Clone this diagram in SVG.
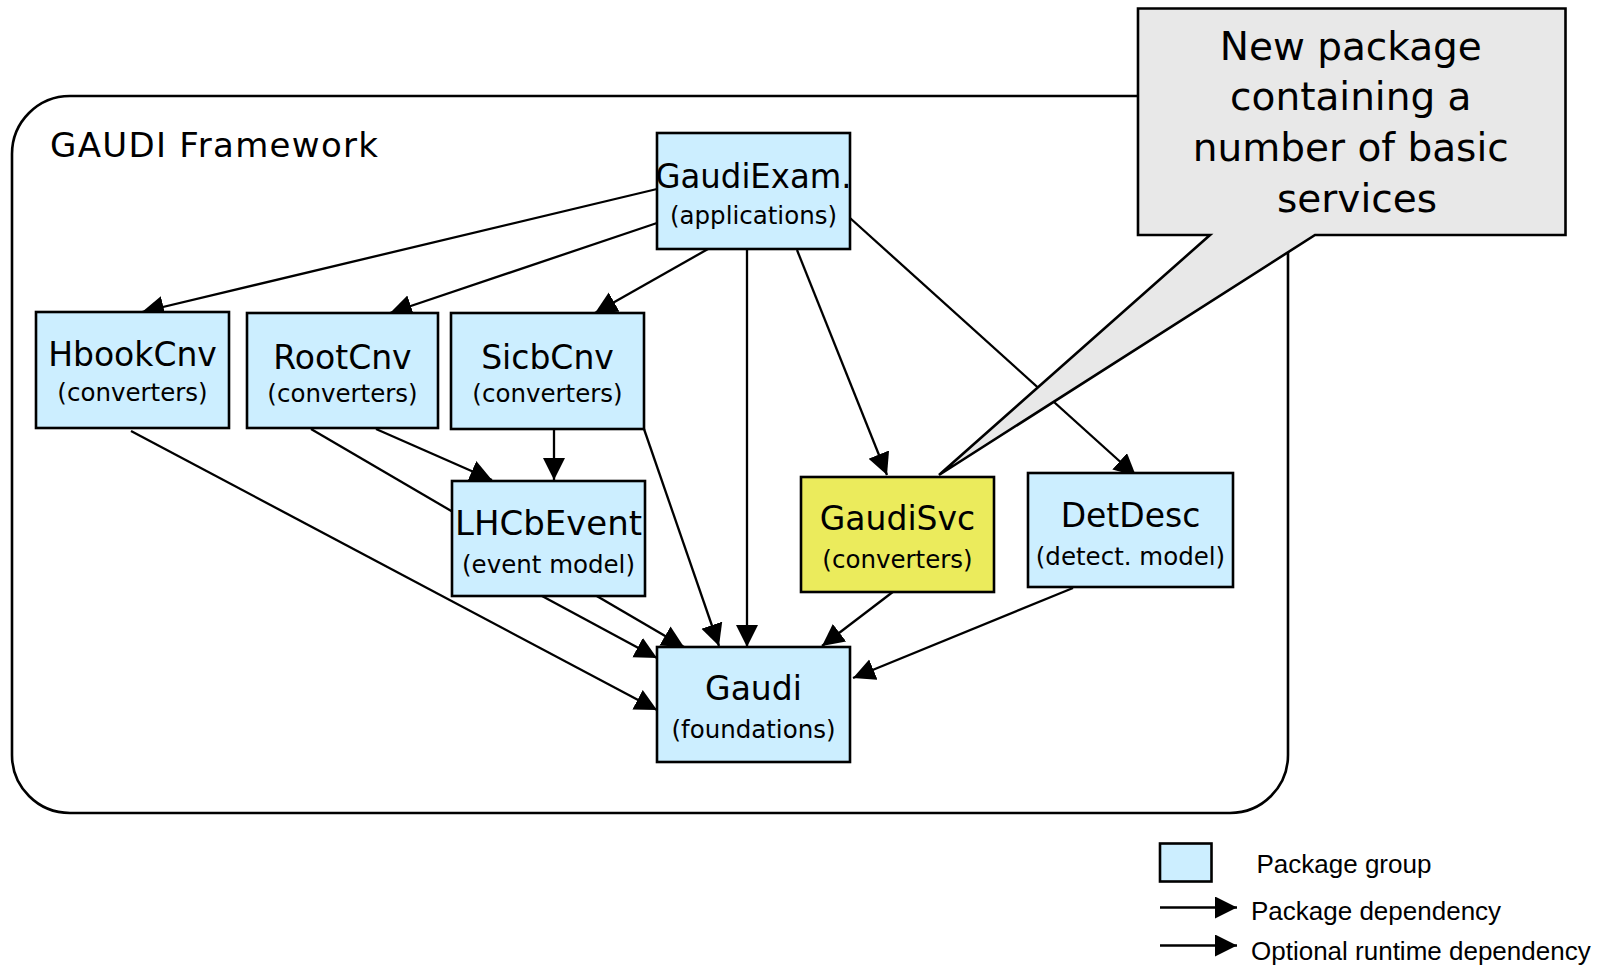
<svg xmlns="http://www.w3.org/2000/svg" width="1609" height="966" viewBox="0 0 1609 966">
<style>
.box{fill:#cceeff;stroke:#000;stroke-width:2.6}
.svc{fill:#ebeb5c;stroke:#000;stroke-width:2.6}
.t{font-family:"DejaVu Sans",sans-serif;font-size:33px;text-anchor:middle;fill:#000}
.s{font-family:"DejaVu Sans",sans-serif;font-size:24.5px;text-anchor:middle;fill:#000}
.e{fill:none;stroke:#000;stroke-width:2.3;marker-end:url(#ah)}
.lg{font-family:"Liberation Sans",Arial,sans-serif;font-size:26px;fill:#000}
</style>
<defs>
<marker id="ah" markerUnits="userSpaceOnUse" markerWidth="23" markerHeight="23" refX="22" refY="11" orient="auto">
<path d="M0,0 L22,11 L0,22 Z" fill="#000"/>
</marker>
</defs>
<rect width="1609" height="966" fill="#fff"/>
<g id="framework">
<rect x="12" y="96" width="1276" height="717" rx="58" ry="58" fill="none" stroke="#000" stroke-width="2.6"/>
<text x="50" y="157" font-family="DejaVu Sans,sans-serif" font-size="34" textLength="328" lengthAdjust="spacing">GAUDI Framework</text>
</g>
<g id="connectors">
<line class="e" x1="657" y1="189" x2="142" y2="312"/>
<line class="e" x1="657" y1="223" x2="390" y2="313"/>
<line class="e" x1="708" y1="249" x2="595" y2="313"/>
<line class="e" x1="747" y1="249" x2="747" y2="647"/>
<line class="e" x1="797" y1="250" x2="887" y2="475"/>
<line class="e" x1="850" y1="218" x2="1136" y2="476"/>
<line class="e" x1="131" y1="431" x2="657" y2="710"/>
<line class="e" x1="376" y1="429" x2="492" y2="480"/>
<line class="e" x1="311" y1="429" x2="684" y2="647"/>
<line class="e" x1="554" y1="429" x2="554" y2="480"/>
<line class="e" x1="644" y1="429" x2="719" y2="646"/>
<line class="e" x1="542" y1="596" x2="657" y2="658"/>
<line class="e" x1="898" y1="588" x2="822" y2="646"/>
<line class="e" x1="1073" y1="588" x2="853" y2="678"/>
</g>
<g id="GaudiExam">
<rect class="box" x="657" y="133" width="193" height="116"/>
<text class="t" x="753.5" y="188" textLength="196" lengthAdjust="spacingAndGlyphs">GaudiExam.</text>
<text class="s" x="753.5" y="223.5">(applications)</text>
</g>
<g id="HbookCnv">
<rect class="box" x="36" y="312" width="193" height="116"/>
<text class="t" x="132.5" y="366">HbookCnv</text>
<text class="s" x="132.5" y="400.5">(converters)</text>
</g>
<g id="RootCnv">
<rect class="box" x="247" y="313" width="191" height="115"/>
<text class="t" x="342.5" y="369">RootCnv</text>
<text class="s" x="342.5" y="401.5">(converters)</text>
</g>
<g id="SicbCnv">
<rect class="box" x="451" y="313" width="193" height="116"/>
<text class="t" x="547.5" y="369">SicbCnv</text>
<text class="s" x="547.5" y="401.5">(converters)</text>
</g>
<g id="LHCbEvent">
<rect class="box" x="452" y="481" width="193" height="115"/>
<text class="t" x="548.5" y="535" textLength="187" lengthAdjust="spacingAndGlyphs">LHCbEvent</text>
<text class="s" x="548.5" y="573">(event model)</text>
</g>
<g id="GaudiSvc">
<rect class="svc" x="801" y="477" width="193" height="115"/>
<text class="t" x="897.5" y="530">GaudiSvc</text>
<text class="s" x="897.5" y="568">(converters)</text>
</g>
<g id="DetDesc">
<rect class="box" x="1028" y="473" width="205" height="114"/>
<text class="t" x="1130.5" y="527">DetDesc</text>
<text class="s" x="1130.5" y="565">(detect. model)</text>
</g>
<g id="Gaudi">
<rect class="box" x="657" y="647" width="193" height="115"/>
<text class="t" x="753.5" y="700">Gaudi</text>
<text class="s" x="753.5" y="738">(foundations)</text>
</g>
<g id="callout">
<path d="M1138,8.5 H1565.5 V235 H1315 L939,475 L1210,235 H1138 Z" fill="#e8e8e8" stroke="#000" stroke-width="2.6" stroke-linejoin="miter"/>
<text font-family="DejaVu Sans,sans-serif" font-size="39" text-anchor="middle" x="1357">
<tspan x="1357" y="60">New package</tspan>
<tspan x="1357" y="110">containing a</tspan>
<tspan x="1357" y="161">number of basic</tspan>
<tspan x="1357" y="212">services</tspan>
</text>
</g>
<g id="legend">
<rect class="box" x="1160" y="843.5" width="51.5" height="38"/>
<text class="lg" x="1256.5" y="873">Package group</text>
<line class="e" x1="1160" y1="907.5" x2="1237" y2="907.5"/>
<text class="lg" x="1251" y="920">Package dependency</text>
<line class="e" x1="1160" y1="945.5" x2="1237" y2="945.5"/>
<text class="lg" x="1251" y="960">Optional runtime dependency</text>
</g>
</svg>
